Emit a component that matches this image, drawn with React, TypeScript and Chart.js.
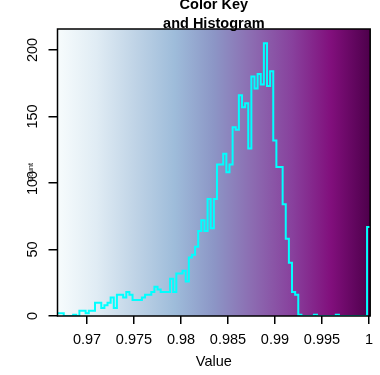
import React, { useEffect, useRef } from 'react';
import { Chart, registerables } from 'chart.js';

Chart.register(...registerables);

// ---- data ----
const X_MIN = 0.96686;
const X_MAX = 1.00013;
// histogram counts for 100 equal-width bins between X_MIN and X_MAX
const COUNTS = [
  2, 2, 0, 0, 0, 1, 0, 4, 4, 2,
  4, 4, 10, 10, 6, 8, 10, 14, 6, 16,
  16, 14, 18, 16, 12, 12, 12, 14, 16, 16,
  18, 22, 20, 18, 18, 18, 28, 18, 32, 32,
  34, 26, 44, 46, 52, 64, 72, 64, 88, 66,
  88, 114, 114, 122, 108, 114, 142, 140, 166, 157,
  160, 126, 180, 171, 182, 174, 205, 173, 184, 132,
  112, 112, 84, 58, 40, 18, 16, 1, 0, 0,
  0, 0, 1, 0, 0, 0, 0, 0, 0, 1,
  0, 0, 0, 0, 0, 0, 0, 0, 0, 67,
];
const X_TICKS = [0.97, 0.975, 0.98, 0.985, 0.99, 0.995, 1];
const Y_TICKS = [0, 50, 100, 150, 200];
const KEY_COLORS = ['#F7FCFD', '#E0ECF4', '#BFD3E6', '#9EBCDA', '#8C96C6', '#8C6BB1', '#88419D', '#810F7C', '#4D004B'];
const TITLE_LINES = ['Color Key', 'and Histogram'];
const X_LABEL = 'Value';
const Y_LABEL = 'Count';

const FONT = '"Liberation Sans", Arial, Helvetica, sans-serif';

export default function App() {
  const ref = useRef<HTMLCanvasElement | null>(null);

  useEffect(() => {
    const canvas = ref.current;
    if (!canvas) return;

    const n = COUNTS.length;
    const w = (X_MAX - X_MIN) / n;
    const pts = [] as { x: number; y: number }[];
    for (let i = 0; i <= n; i++) {
      pts.push({ x: X_MIN + i * w, y: COUNTS[Math.min(i, n - 1)] });
    }
    const yMax = Math.max(...COUNTS) / 0.95;

    const keyPlugin = {
      id: 'keyBackground',
      beforeDatasetsDraw(chart: any) {
        const { ctx, chartArea: a } = chart;
        ctx.save();
        const g = ctx.createLinearGradient(a.left, 0, a.right, 0);
        KEY_COLORS.forEach((c, i) => g.addColorStop(i / (KEY_COLORS.length - 1), c));
        ctx.fillStyle = g;
        ctx.fillRect(a.left, a.top, a.right - a.left, a.bottom - a.top);
        ctx.restore();
      },
      afterDatasetsDraw(chart: any) {
        const { ctx, chartArea: a } = chart;
        ctx.save();
        ctx.strokeStyle = '#000';
        ctx.lineWidth = 1.5;
        ctx.strokeRect(a.left, a.top, a.right - a.left, a.bottom - a.top);
        ctx.restore();
      },
      afterDraw(chart: any) {
        const { ctx, chartArea: a } = chart;
        ctx.save();
        ctx.fillStyle = '#000';
        ctx.font = 'bold 14.5px ' + FONT;
        ctx.textAlign = 'center';
        ctx.textBaseline = 'alphabetic';
        const cx = (a.left + a.right) / 2;
        ctx.fillText(TITLE_LINES[0], cx, a.top - 20.3);
        ctx.fillText(TITLE_LINES[1], cx, a.top - 0.7);
        ctx.restore();
      },
    };

    const chart = new Chart(canvas, {
      type: 'line',
      data: {
        datasets: [
          {
            data: pts,
            parsing: false,
            borderColor: '#00FFFF',
            borderWidth: 2,
            pointRadius: 0,
            fill: false,
            stepped: 'before',
            tension: 0,
          } as any,
        ],
      },
      options: {
        animation: false,
        responsive: false,
        devicePixelRatio: 1,
        layout: { padding: { left: 0, right: 2, top: 29, bottom: 0 } },
        plugins: {
          legend: { display: false },
          tooltip: { enabled: false },
          title: { display: false },
        },
        scales: {
          x: {
            type: 'linear',
            min: X_MIN,
            max: X_MAX,
            afterBuildTicks: (s: any) => {
              s.ticks = X_TICKS.map((v) => ({ value: v }));
            },
            afterFit: (s: any) => {
              s.height = 59;
            },
            ticks: {
              autoSkip: false,
              maxRotation: 0,
              minRotation: 0,
              padding: 7,
              color: '#000',
              font: { family: FONT, size: 14.5 },
              callback: (v: any) => String(v),
            },
            grid: {
              drawOnChartArea: false,
              drawTicks: true,
              tickLength: 8,
              color: '#000',
              lineWidth: 1.5,
            },
            border: { display: false },
            title: {
              display: true,
              text: X_LABEL,
              color: '#000',
              font: { family: FONT, size: 14.5 },
              padding: { top: 0, bottom: 4 },
            },
          },
          y: {
            type: 'linear',
            min: 0,
            max: yMax,
            afterBuildTicks: (s: any) => {
              s.ticks = Y_TICKS.map((v) => ({ value: v }));
            },
            afterFit: (s: any) => {
              s.width = 57.5;
            },
            ticks: {
              minRotation: 90,
              maxRotation: 90,
              crossAlign: 'center',
              padding: 3,
              color: '#000',
              font: { family: FONT, size: 14.5 },
              callback: (v: any) => String(v),
            },
            grid: {
              drawOnChartArea: false,
              drawTicks: true,
              tickLength: 9,
              color: '#000',
              lineWidth: 1.5,
            },
            border: { display: false },
            title: {
              display: true,
              text: Y_LABEL,
              color: '#000',
              font: { family: FONT, size: 7 },
              padding: { top: 27, bottom: 0 },
            },
          },
        },
      },
      plugins: [keyPlugin],
    });

    return () => chart.destroy();
  }, []);

  return (
    <div style={{ position: 'absolute', left: 0, top: 0, width: 380, height: 375 }}>
      <canvas ref={ref} width={380} height={375} style={{ display: 'block' }} />
    </div>
  );
}
